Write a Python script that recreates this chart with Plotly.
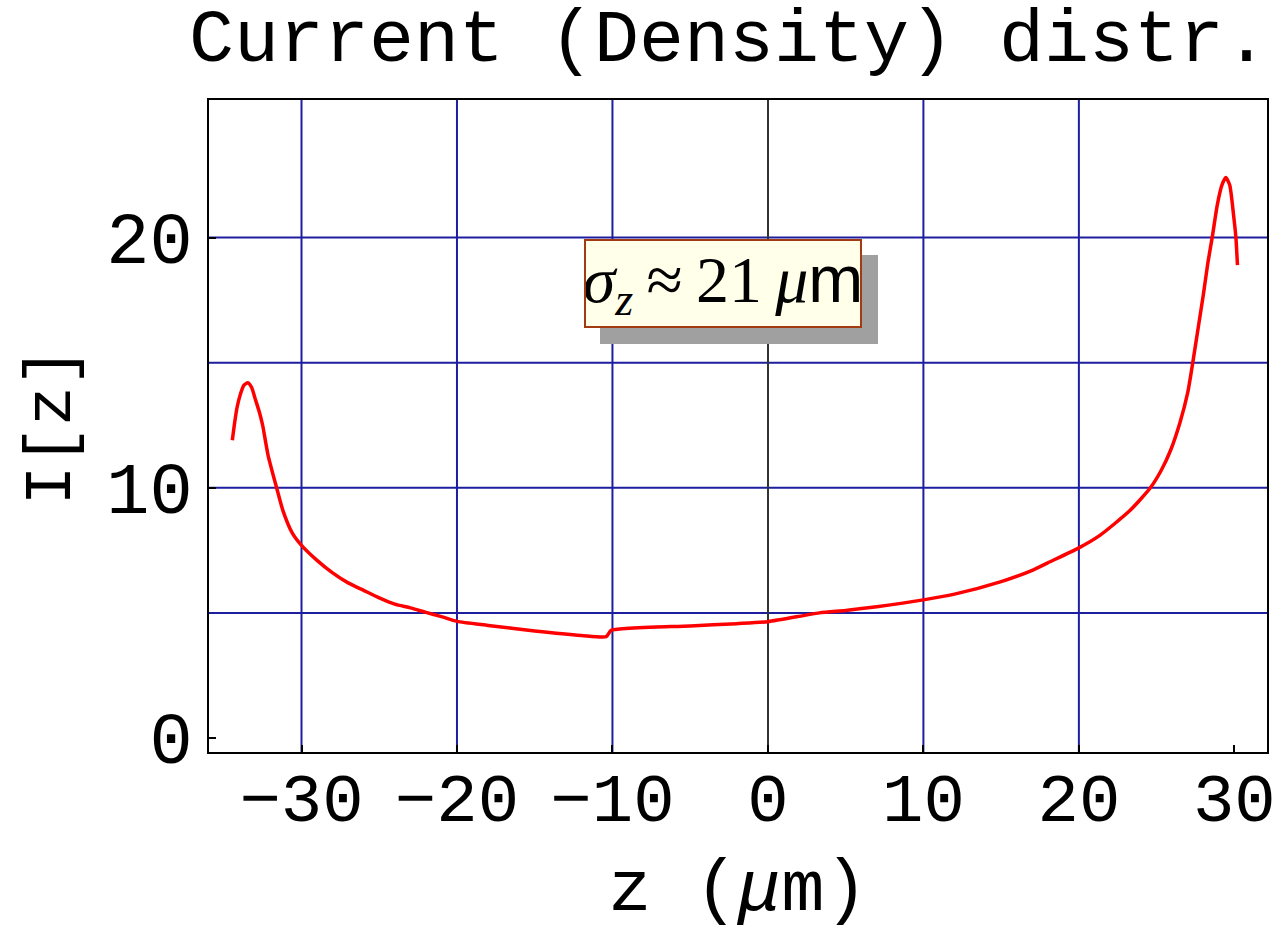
import plotly.graph_objects as go

# ---- data ----
z_um = [-34.45, -34.3, -34.15, -33.95, -33.7, -33.45, -33.2, -33.0, -32.7, -32.5, -32.15,
        -31.6, -31.2, -30.6, -30.0, -29.0, -28.0, -27.0, -26.0, -25.0, -24.0,
        -23.0, -22.0, -21.0, -20.0, -18.0, -15.0, -12.0, -10.4, -10.1, -9.8,
        -8.0, -5.0, -2.0, 0.0, 3.3, 5.0, 7.0, 10.0, 12.0, 15.0,
        17.0, 18.0, 20.0, 21.35, 23.3, 24.6, 25.3, 25.9, 26.5, 27.0, 27.3,
        27.7, 28.0, 28.3, 28.6, 28.9, 29.2, 29.45, 29.7, 29.95, 30.1, 30.2]
current = [11.9, 12.6, 13.2, 13.7, 14.1, 14.2, 14.0, 13.6, 13.0, 12.5, 11.3,
           10.0, 9.1, 8.2, 7.7, 7.1, 6.6, 6.2, 5.9, 5.6, 5.35,
           5.2, 5.02, 4.85, 4.66, 4.5, 4.28, 4.1, 4.05, 4.3, 4.34,
           4.42, 4.48, 4.57, 4.65, 5.0, 5.1, 5.25, 5.52, 5.75, 6.25,
           6.7, 7.0, 7.6, 8.1, 9.1, 10.0, 10.7, 11.5, 12.6, 13.8, 14.9,
           16.5, 17.7, 19.0, 20.1, 21.3, 22.1, 22.4, 22.1, 20.9, 20.0, 18.9]

x_ticks = [-30, -20, -10, 0, 10, 20, 30]
x_ticktext = ["\u221230", "\u221220", "\u221210", "0", "10", "20", "30"]
y_ticks = [0, 10, 20]
y_ticktext = ["0", "10", "20"]
grid_x = [-30, -20, -10, 10, 20]
grid_y = [5, 10, 15, 20]

title_text = "Current (Density) distr."
x_title = "z (<i>\u03bc</i>m)"
y_title = "I[z]"
box_text = ("<i>\u03c3</i><sub><i>z</i></sub>\u2009\u2248\u200921\u2009<i>\u03bc</i>"
            "<span style=\"font-family:'Liberation Sans'\">m</span>")
box_x, box_y = -2.9, 18.15

MONO = "Liberation Mono, Courier New, monospace"
GRID = "#1e1ea0"

fig = go.Figure()
fig.add_trace(go.Scatter(x=z_um, y=current, mode="lines",
                         line=dict(color="#ff0000", width=3.5, shape="spline", smoothing=0.6),
                         showlegend=False, hoverinfo="skip"))

shapes = []
for gx in grid_x:
    shapes.append(dict(type="line", xref="x", yref="paper", x0=gx, x1=gx, y0=0, y1=1,
                       line=dict(color=GRID, width=2), layer="below"))
for gy in grid_y:
    shapes.append(dict(type="line", xref="paper", yref="y", x0=0, x1=1, y0=gy, y1=gy,
                       line=dict(color=GRID, width=2), layer="below"))

annotations = [
    # drop shadow
    dict(x=box_x, y=box_y, xref="x", yref="y", text=box_text, showarrow=False,
         font=dict(family="Liberation Serif, Times New Roman, serif", size=66, color="#a0a0a0"),
         bgcolor="#a0a0a0", borderwidth=2, bordercolor="#a0a0a0", borderpad=0,
         width=274, height=85, xshift=16, yshift=-16),
    dict(x=box_x, y=box_y, xref="x", yref="y", text=box_text, showarrow=False,
         font=dict(family="Liberation Serif, Times New Roman, serif", size=66, color="#000000"),
         bgcolor="#ffffea", borderwidth=2, bordercolor="#a33a12", borderpad=0,
         width=274, height=85),
]

fig.update_layout(
    width=1275, height=932,
    margin=dict(l=209, r=8, t=100, b=180, autoexpand=False),
    paper_bgcolor="white", plot_bgcolor="white",
    title=dict(text=title_text, font=dict(family=MONO, size=75, color="black"),
               x=729 / 1275, xref="container", xanchor="center",
               y=1 - 35 / 932, yref="container", yanchor="middle"),
    shapes=shapes,
    annotations=annotations,
    xaxis=dict(range=[-35.95, 32.1], tickvals=x_ticks, ticktext=x_ticktext,
               ticks="inside", ticklen=7, tickwidth=2, tickcolor="black",
               showgrid=False, zeroline=True, zerolinecolor="#333333", zerolinewidth=2,
               showline=True, linecolor="black", linewidth=2, mirror=True,
               automargin=False,
               ticklabeloverflow="allow", ticklabelstandoff=-16,
               tickfont=dict(family=MONO, size=69, color="black"),
               title=dict(text=x_title, font=dict(family=MONO, size=72, color="black"),
                          standoff=22)),
    yaxis=dict(range=[-0.56, 25.5], tickvals=y_ticks, ticktext=y_ticktext,
               ticks="inside", ticklen=7, tickwidth=2, tickcolor="black",
               showgrid=False, zeroline=False, automargin=False,
               showline=True, linecolor="black", linewidth=2, mirror=True,
               tickfont=dict(family=MONO, size=72, color="black"),
               title=dict(text=y_title, font=dict(family=MONO, size=66, color="black"),
                          standoff=14)),
)

fig.write_html("out.html")
